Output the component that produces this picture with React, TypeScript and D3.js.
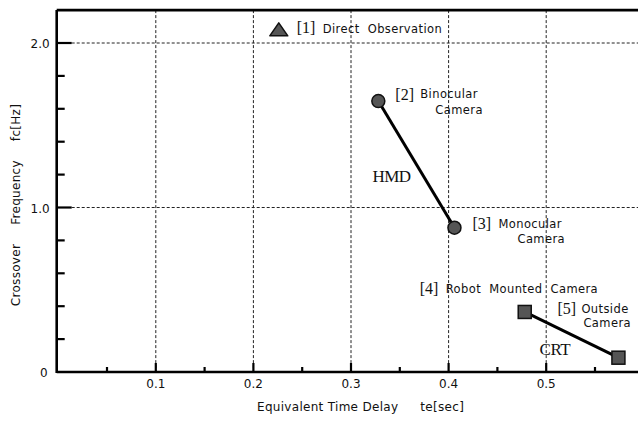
import * as d3 from "d3";

const delays = [0.226, 0.328, 0.406, 0.478, 0.574];
const freqs = [2.08, 1.647, 0.877, 0.365, 0.087];
const markers = ["triangle", "circle", "circle", "square", "square"];
const tags = ["[1]", "[2]", "[3]", "[4]", "[5]"];
const names = [
  ["Direct  Observation"],
  ["Binocular", "Camera"],
  ["Monocular", "Camera"],
  ["Robot  Mounted  Camera"],
  ["Outside", "Camera"],
];
// which points are joined, and the group name of each pair
const pairs = [
  [1, 2],
  [3, 4],
];
const pairNames = ["HMD", "CRT"];

const xMajor = [0.1, 0.2, 0.3, 0.4, 0.5];
const xMinor = [0.05, 0.15, 0.25, 0.35, 0.45, 0.55];
const yMajor = [1.0, 2.0];
const yMinor = [0.2, 0.4, 0.6, 0.8, 1.2, 1.4, 1.6, 1.8];
const yTickLabels = ["0", "1.0", "2.0"];

const W = 638;
const H = 424;
const sans = "DejaVu Sans, sans-serif";
const serif = "Liberation Serif, serif";

// label placement relative to each point (px): tag, first line, second line (relative to first)
const labelPos = [
  { tx: 18, ty: 3, nx: 44, ny: 3, cx: 0, cy: 0 },
  { tx: 17, ty: -1, nx: 42, ny: -3, cx: 15, cy: 16 },
  { tx: 18, ty: 1, nx: 44, ny: 0, cx: 19, cy: 15 },
  { tx: -105, ty: -18, nx: -79, ny: -19, cx: 0, cy: 0 },
  { tx: -61, ty: -44, nx: -37, ny: -45, cx: 2, cy: 14 },
];
// group name placement relative to the midpoint of its segment
const pairLabelPos = [
  { dx: -44, dy: 18 },
  { dx: -32, dy: 20 },
];

export default function App() {
  const x = d3.scaleLinear().domain([0, 0.6]).range([58.2, 58.2 + 0.6 * 976]);
  const y = d3.scaleLinear().domain([0, 2.2]).range([372, 10.1]);
  const left = x(0) - 1.5;
  const bottom = y(0);
  const top = y(2.2);

  const marker = (kind: string, cx: number, cy: number, i: number) => {
    if (kind === "circle")
      return <circle key={i} cx={cx} cy={cy} r={6.5} fill="#555" stroke="#111" strokeWidth={1.5} />;
    if (kind === "square")
      return (
        <rect key={i} x={cx - 6.5} y={cy - 6.5} width={13} height={13} fill="#555" stroke="#111" strokeWidth={1.5} />
      );
    return (
      <path
        key={i}
        d={`M${cx - 9},${cy + 6} L${cx},${cy - 7} L${cx + 9},${cy + 6} Z`}
        fill="#555"
        stroke="#111"
        strokeWidth={1.5}
        strokeLinejoin="round"
      />
    );
  };

  return (
    <svg
      width={W}
      height={H}
      style={{ position: "absolute", left: 0, top: 0, background: "#fff" }}
    >
      {/* grid */}
      <g stroke="#222" strokeWidth={1} strokeDasharray="3,2">
        {xMajor.map((v) => (
          <line key={v} x1={x(v)} x2={x(v)} y1={top} y2={bottom} />
        ))}
        {yMajor.map((v) => (
          <line key={v} x1={left} x2={W} y1={y(v)} y2={y(v)} />
        ))}
      </g>

      {/* ticks */}
      <g stroke="#000" strokeWidth={2.2}>
        {xMajor.map((v) => (
          <line key={v} x1={x(v)} x2={x(v)} y1={bottom} y2={bottom - 9} />
        ))}
        {xMinor.map((v) => (
          <line key={v} x1={x(v)} x2={x(v)} y1={bottom} y2={bottom - 5} />
        ))}
        {yMajor.map((v) => (
          <line key={v} x1={left} x2={left + 15} y1={y(v)} y2={y(v)} />
        ))}
        {yMinor.map((v) => (
          <line key={v} x1={left} x2={left + 8} y1={y(v)} y2={y(v)} />
        ))}
      </g>

      {/* frame */}
      <g stroke="#000" strokeWidth={2.6} fill="none">
        <line x1={left} x2={W} y1={bottom} y2={bottom} />
        <line x1={left} x2={left} y1={top} y2={bottom + 1} />
        <line x1={left} x2={W} y1={top} y2={top} />
      </g>

      {/* tick labels */}
      <g fontFamily={sans} fontSize={12} fill="#111">
        {xMajor.map((v) => (
          <text key={v} x={x(v)} y={bottom + 16} textAnchor="middle">
            {d3.format(".1f")(v)}
          </text>
        ))}
        {[0, 1, 2].map((v, i) => (
          <text key={v} x={v === 0 ? left - 9 : left - 7} y={y(v) + 5} textAnchor="end">
            {yTickLabels[i]}
          </text>
        ))}
      </g>

      {/* axis titles */}
      <text x={257} y={411} fontFamily={sans} fontSize={12} fill="#111" letterSpacing={0.3}>
        <tspan>Equivalent Time Delay</tspan>
        <tspan dx={22}>te[sec]</tspan>
      </text>
      <text
        transform="translate(20,205) rotate(-90)"
        textAnchor="middle"
        fontFamily={sans}
        fontSize={12}
        fill="#111"
        letterSpacing={0.3}
      >
        <tspan>Crossover</tspan>
        <tspan dx={19}>Frequency</tspan>
        <tspan dx={19}>fc[Hz]</tspan>
      </text>

      {/* connecting lines */}
      {pairs.map(([a, b], k) => (
        <line
          key={k}
          x1={x(delays[a])}
          y1={y(freqs[a])}
          x2={x(delays[b])}
          y2={y(freqs[b])}
          stroke="#000"
          strokeWidth={3}
        />
      ))}

      {/* group names */}
      {pairs.map(([a, b], k) => {
        const mx = (x(delays[a]) + x(delays[b])) / 2;
        const my = (y(freqs[a]) + y(freqs[b])) / 2;
        return (
          <text
            key={k}
            x={mx + pairLabelPos[k].dx}
            y={my + pairLabelPos[k].dy}
            fontFamily={serif}
            fontSize={17}
            fill="#111"
            letterSpacing={-0.5}
          >
            {pairNames[k]}
          </text>
        );
      })}

      {/* markers */}
      {delays.map((d, i) => marker(markers[i], x(d), y(freqs[i]), i))}

      {/* point labels */}
      {delays.map((d, i) => {
        const px = x(d);
        const py = y(freqs[i]);
        const p = labelPos[i];
        return (
          <g key={i} fill="#111">
            <text x={px + p.tx} y={py + p.ty} fontFamily={serif} fontSize={16}>
              {tags[i]}
            </text>
            <text
              x={px + p.nx}
              y={py + p.ny}
              fontFamily={sans}
              fontSize={11.5}
              letterSpacing={0.4}
              style={{ whiteSpace: "pre" }}
            >
              {names[i][0]}
            </text>
            {names[i][1] && (
              <text
                x={px + p.nx + p.cx}
                y={py + p.ny + p.cy}
                fontFamily={sans}
                fontSize={11.5}
                letterSpacing={0.4}
              >
                {names[i][1]}
              </text>
            )}
          </g>
        );
      })}
    </svg>
  );
}
